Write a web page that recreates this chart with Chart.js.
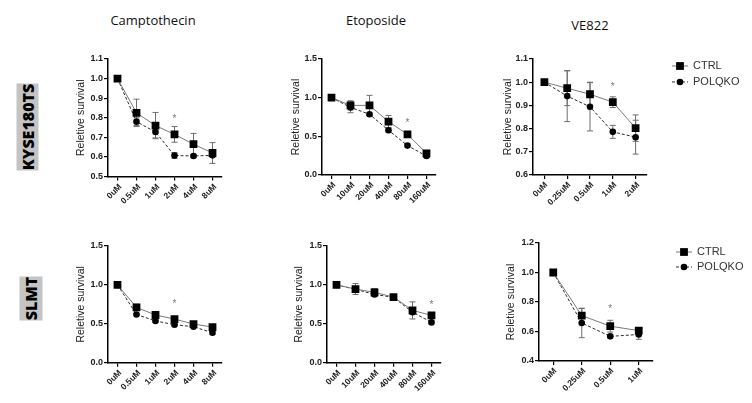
<!DOCTYPE html>
<html lang="pt-BR">
<head>
<meta charset="UTF-8">
<title>Relative survival</title>
<script src="https://cdn.jsdelivr.net/npm/chart.js@4.4.1/dist/chart.umd.min.js"></script>
<style>
  html, body { margin: 0; padding: 0; background: #fff; }
  body { width: 752px; height: 403px; position: relative; overflow: hidden; }
  canvas { position: absolute; }
  .titulo {
    position: absolute;
    font-family: "Open Sans", "Noto Sans", sans-serif;
    font-size: 13px;
    line-height: 16px;
    color: #111;
    transform: translateX(-50%);
    white-space: nowrap;
  }
  .linhaCelular {
    position: absolute;
    background: #c4c4c4;
    color: #000;
    font-family: "Open Sans", "Noto Sans", sans-serif;
    font-weight: 800;
    font-size: 16px;
    text-align: center;
    white-space: nowrap;
    transform: rotate(-90deg);
    transform-origin: center center;
  }
  .ancoraDose {
    position: absolute;
    width: 0;
    height: 0;
    transform: rotate(-45deg);
    transform-origin: 0 0;
  }
  .ancoraDose span {
    position: absolute;
    right: 0;
    top: 0;
    transform: translateY(-50%);
    white-space: nowrap;
    font-family: "Liberation Sans", Arial, sans-serif;
    font-weight: bold;
    font-size: 8.5px;
    line-height: 10px;
    color: #222;
  }
</style>
</head>
<body>

<div class="titulo" style="left:153px; top:12px;">Camptothecin</div>
<div class="titulo" style="left:376px; top:12px;">Etoposide</div>
<div class="titulo" style="left:590px; top:17px;">VE822</div>

<div class="linhaCelular" style="left:-16.5px; top:115.5px; width:87px; height:22px; line-height:22px;">KYSE180TS</div>
<div class="linhaCelular" style="left:8.5px; top:286.5px; width:44px; height:23px; line-height:23px;">SLMT</div>

<canvas id="kyseCampto"></canvas>
<canvas id="kyseEtopo"></canvas>
<canvas id="kyseVe822"></canvas>
<canvas id="slmtCampto"></canvas>
<canvas id="slmtEtopo"></canvas>
<canvas id="slmtVe822"></canvas>

<script>
const nomesGrupos = ["CTRL", "POLQKO"];

const dosesCamptotecina = ["0uM", "0.5uM", "1uM", "2uM", "4uM", "8uM"];
const dosesEtoposideo = ["0uM", "10uM", "20uM", "40uM", "80uM", "160uM"];
const dosesVe822Kyse = ["0uM", "0.25uM", "0.5uM", "1uM", "2uM"];
const dosesVe822Slmt = ["0uM", "0.25uM", "0.5uM", "1uM"];

// KYSE180TS
const kyseCamptoCtrl = [1.0, 0.825, 0.76, 0.715, 0.665, 0.62];
const kyseCamptoCtrlErro = [0, 0.07, 0.067, 0.04, 0.055, 0.053];
const kyseCamptoPolq = [1.0, 0.78, 0.727, 0.607, 0.605, 0.608];
const kyseCamptoPolqErro = [0, 0.02, 0.03, 0.015, 0.008, 0.008];

const kyseEtopoCtrl = [1.0, 0.9, 0.9, 0.69, 0.525, 0.28];
const kyseEtopoCtrlErro = [0, 0.06, 0.13, 0.08, 0.03, 0.02];
const kyseEtopoPolq = [1.0, 0.875, 0.785, 0.578, 0.38, 0.245];
const kyseEtopoPolqErro = [0, 0.07, 0.02, 0.03, 0.02, 0.02];

const kyseVe822Ctrl = [1.0, 0.974, 0.948, 0.914, 0.802];
const kyseVe822CtrlErro = [0, 0.075, 0.052, 0.023, 0.057];
const kyseVe822Polq = [1.0, 0.94, 0.894, 0.786, 0.763];
const kyseVe822PolqErro = [0, 0.11, 0.104, 0.028, 0.073];

// SLMT
const slmtCamptoCtrl = [1.0, 0.711, 0.613, 0.561, 0.497, 0.458];
const slmtCamptoCtrlErro = [0, 0.04, 0.04, 0.02, 0.02, 0.02];
const slmtCamptoPolq = [1.0, 0.62, 0.536, 0.489, 0.462, 0.385];
const slmtCamptoPolqErro = [0, 0.015, 0.015, 0.01, 0.01, 0.02];

const slmtEtopoCtrl = [1.0, 0.947, 0.904, 0.844, 0.672, 0.608];
const slmtEtopoCtrlErro = [0, 0.07, 0.05, 0.02, 0.11, 0.02];
const slmtEtopoPolq = [1.0, 0.943, 0.878, 0.84, 0.65, 0.518];
const slmtEtopoPolqErro = [0, 0.02, 0.02, 0.02, 0.03, 0.02];

const slmtVe822Ctrl = [1.0, 0.708, 0.636, 0.606];
const slmtVe822CtrlErro = [0, 0.048, 0.04, 0.02];
const slmtVe822Polq = [1.0, 0.658, 0.567, 0.58];
const slmtVe822PolqErro = [0, 0.1, 0.012, 0.033];

// eixo y: [min, max, passo]
const eixoKyseCampto = [0.5, 1.1, 0.1];
const eixoKyseEtopo = [0, 1.5, 0.5];
const eixoKyseVe822 = [0.6, 1.1, 0.1];
const eixoSlmtCampto = [0, 1.5, 0.5];
const eixoSlmtEtopo = [0, 1.5, 0.5];
const eixoSlmtVe822 = [0.4, 1.2, 0.2];

// asterisco de significância: [dose, valor]
const asteriscoKyseCampto = ["2uM", 0.805];
const asteriscoKyseEtopo = ["80uM", 0.70];
const asteriscoKyseVe822 = ["1uM", 0.985];
const asteriscoSlmtCampto = ["2uM", 0.775];
const asteriscoSlmtEtopo = ["160uM", 0.77];
const asteriscoSlmtVe822 = ["0.5uM", 0.763];

const rotuloEixoY = "Reletive survival";
const fonteArial = "'Liberation Sans', Arial, sans-serif";

Chart.defaults.font.family = fonteArial;

const barrasErro = {
  id: "barrasErro",
  beforeDatasetsDraw(chart) {
    const { ctx } = chart;
    const escalaY = chart.scales.y;

    chart.data.datasets.forEach((dataset, i) => {
      const meta = chart.getDatasetMeta(i);
      ctx.save();
      ctx.strokeStyle = "#6e6e6e";
      ctx.lineWidth = 1;

      meta.data.forEach((ponto, j) => {
        const erro = dataset.erros[j];
        if (!erro) return;

        const valor = dataset.data[j];
        const topo = escalaY.getPixelForValue(valor + erro);
        const base = escalaY.getPixelForValue(valor - erro);

        ctx.beginPath();
        ctx.moveTo(ponto.x, topo);
        ctx.lineTo(ponto.x, base);
        ctx.moveTo(ponto.x - 3, topo);
        ctx.lineTo(ponto.x + 3, topo);
        ctx.moveTo(ponto.x - 3, base);
        ctx.lineTo(ponto.x + 3, base);
        ctx.stroke();
      });

      ctx.restore();
    });
  }
};

const asterisco = {
  id: "asterisco",
  afterDatasetsDraw(chart, args, opcoes) {
    if (!opcoes.marca) return;
    const { ctx } = chart;
    const [dose, valor] = opcoes.marca;
    const x = chart.scales.x.getPixelForValue(chart.data.labels.indexOf(dose));
    const y = chart.scales.y.getPixelForValue(valor);

    ctx.save();
    ctx.fillStyle = "#777";
    ctx.font = "10px " + fonteArial;
    ctx.textAlign = "center";
    ctx.textBaseline = "middle";
    ctx.fillText("*", x, y + 2);
    ctx.restore();
  }
};

const legendaManual = {
  id: "legendaManual",
  afterDraw(chart, args, opcoes) {
    if (!opcoes.ativa) return;
    const { ctx } = chart;

    chart.data.datasets.forEach((dataset, i) => {
      const x = opcoes.x;
      const y = opcoes.y + i * opcoes.espaco;

      ctx.save();
      ctx.strokeStyle = dataset.borderColor;
      ctx.lineWidth = 1;
      ctx.setLineDash(dataset.borderDash || []);
      ctx.beginPath();
      ctx.moveTo(x - 8, y);
      ctx.lineTo(x + 8, y);
      ctx.stroke();
      ctx.setLineDash([]);

      ctx.fillStyle = "#000";
      Chart.helpers.drawPoint(ctx, {
        pointStyle: dataset.pointStyle,
        radius: dataset.pointRadius,
        rotation: 0,
        borderWidth: 0
      }, x, y);

      ctx.fillStyle = "#333";
      ctx.font = "11px " + fonteArial;
      ctx.textAlign = "left";
      ctx.textBaseline = "middle";
      ctx.fillText(dataset.label, x + 13, y);
      ctx.restore();
    });
  }
};

// rótulos das doses como texto HTML em diagonal, ancorados nos ticks da escala x
function colocarRotulosDoses(grafico, esquerda, topo) {
  const escala = grafico.scales.x;

  grafico.data.labels.forEach((rotulo, i) => {
    const ancora = document.createElement("div");
    ancora.className = "ancoraDose";
    ancora.style.left = (esquerda + escala.getPixelForTick(i) + 2) + "px";
    ancora.style.top = (topo + escala.top + 8) + "px";

    const texto = document.createElement("span");
    texto.textContent = rotulo;
    ancora.appendChild(texto);
    document.body.appendChild(ancora);
  });
}

function montarDatasets(ctrl, ctrlErro, polq, polqErro) {
  return [
    {
      label: nomesGrupos[0],
      data: ctrl,
      erros: ctrlErro,
      borderColor: "#7a7a7a",
      borderWidth: 1,
      pointStyle: "rect",
      pointRadius: 5.5,
      pointBackgroundColor: "#000",
      pointBorderWidth: 0,
      tension: 0
    },
    {
      label: nomesGrupos[1],
      data: polq,
      erros: polqErro,
      borderColor: "#2b2b2b",
      borderWidth: 1,
      borderDash: [3, 2],
      pointStyle: "circle",
      pointRadius: 3.3,
      pointBackgroundColor: "#000",
      pointBorderWidth: 0,
      tension: 0
    }
  ];
}

function criarPainel(canvasId, doses, datasets, eixo, marca, area, tituloX, legenda) {
  const canvas = document.getElementById(canvasId);
  const esquerda = Math.round(tituloX - 6.3);
  const topo = Math.round(area.top - 14);
  const direita = legenda ? 752 : Math.round(area.right + 12);
  const baixo = Math.round(area.bottom + 42);

  canvas.width = direita - esquerda;
  canvas.height = baixo - topo;
  canvas.style.left = esquerda + "px";
  canvas.style.top = topo + "px";

  const [minimo, maximo, passo] = eixo;

  const grafico = new Chart(canvas, {
    type: "line",
    data: { labels: doses, datasets },
    options: {
      responsive: false,
      animation: false,
      events: [],
      layout: {
        padding: {
          left: 0,
          top: area.top - topo,
          right: direita - area.right,
          bottom: 0
        }
      },
      scales: {
        x: {
          offset: true,
          afterFit(escala) { escala.height = baixo - area.bottom; },
          border: { display: true, color: "#000", width: 1.5 },
          grid: { drawOnChartArea: false, drawTicks: true, tickLength: 4, color: "#000", lineWidth: 1.2 },
          ticks: { display: false, autoSkip: false }
        },
        y: {
          min: minimo,
          max: maximo,
          afterFit(escala) { escala.width = area.left - esquerda; },
          border: { display: true, color: "#000", width: 1.5 },
          grid: { drawOnChartArea: false, drawTicks: true, tickLength: 4, color: "#000", lineWidth: 1.2 },
          ticks: {
            stepSize: passo,
            padding: 1,
            color: "#222",
            font: { size: 9, weight: "bold" },
            callback: valor => Number(valor).toFixed(1)
          },
          title: {
            display: true,
            text: rotuloEixoY,
            color: "#222",
            padding: 0,
            font: { size: 10.5 }
          }
        }
      },
      plugins: {
        legend: { display: false },
        tooltip: { enabled: false },
        asterisco: { marca },
        legendaManual: legenda
          ? { ativa: true, x: legenda.x - esquerda, y: legenda.y - topo, espaco: legenda.espaco }
          : { ativa: false }
      }
    },
    plugins: [barrasErro, asterisco, legendaManual]
  });

  colocarRotulosDoses(grafico, esquerda, topo);
  return grafico;
}

function carregarFigura() {
  criarPainel("kyseCampto", dosesCamptotecina,
    montarDatasets(kyseCamptoCtrl, kyseCamptoCtrlErro, kyseCamptoPolq, kyseCamptoPolqErro),
    eixoKyseCampto, asteriscoKyseCampto,
    { left: 108, top: 59, right: 222, bottom: 176.5 }, 81, null);

  criarPainel("kyseEtopo", dosesEtoposideo,
    montarDatasets(kyseEtopoCtrl, kyseEtopoCtrlErro, kyseEtopoPolq, kyseEtopoPolqErro),
    eixoKyseEtopo, asteriscoKyseEtopo,
    { left: 322, top: 59, right: 436, bottom: 175 }, 296, null);

  criarPainel("kyseVe822", dosesVe822Kyse,
    montarDatasets(kyseVe822Ctrl, kyseVe822CtrlErro, kyseVe822Polq, kyseVe822PolqErro),
    eixoKyseVe822, asteriscoKyseVe822,
    { left: 533, top: 59, right: 647, bottom: 175 }, 508,
    { x: 680, y: 66, espaco: 16 });

  criarPainel("slmtCampto", dosesCamptotecina,
    montarDatasets(slmtCamptoCtrl, slmtCamptoCtrlErro, slmtCamptoPolq, slmtCamptoPolqErro),
    eixoSlmtCampto, asteriscoSlmtCampto,
    { left: 108, top: 246, right: 222, bottom: 362.7 }, 81, null);

  criarPainel("slmtEtopo", dosesEtoposideo,
    montarDatasets(slmtEtopoCtrl, slmtEtopoCtrlErro, slmtEtopoPolq, slmtEtopoPolqErro),
    eixoSlmtEtopo, asteriscoSlmtEtopo,
    { left: 327, top: 246, right: 441, bottom: 362.7 }, 299, null);

  criarPainel("slmtVe822", dosesVe822Slmt,
    montarDatasets(slmtVe822Ctrl, slmtVe822CtrlErro, slmtVe822Polq, slmtVe822PolqErro),
    eixoSlmtVe822, asteriscoSlmtVe822,
    { left: 539, top: 243, right: 653, bottom: 361 }, 511,
    { x: 684, y: 252, espaco: 15 });
}

carregarFigura();
</script>
</body>
</html>
